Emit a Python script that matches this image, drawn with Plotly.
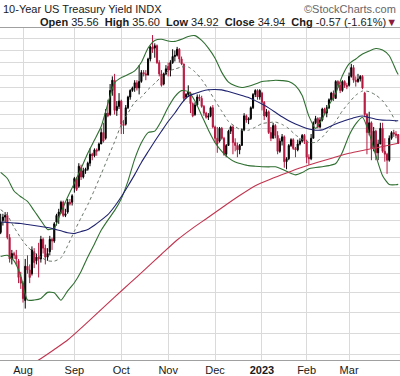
import math
import pandas as pd
import plotly.graph_objects as go

# ---------------- data ----------------
HOLIDAYS = ["2022-09-05", "2022-11-24", "2022-12-26", "2023-01-02", "2023-01-16", "2023-02-20"]
DATES = [d.strftime("%Y-%m-%d") for d in pd.bdate_range("2022-07-18", "2023-03-31")
         if d.strftime("%Y-%m-%d") not in HOLIDAYS]

OPEN = [29.3, 30.0, 30.2, 30.3, 29.0, 27.8, 28.1, 28.0, 27.7, 26.8,
        26.5, 25.6, 27.4, 27.2, 27.0, 28.2, 27.7, 27.9, 27.8, 28.9,
        28.4, 27.9, 28.2, 28.9, 28.8, 29.9, 30.3, 30.5, 31.1, 30.3,
        30.5, 31.1, 31.1, 32.0, 32.6, 32.1, 33.3, 32.7, 33.1, 33.2,
        33.6, 34.2, 34.1, 34.5, 34.5, 34.9, 35.7, 35.3, 37.1, 37.0,
        38.8, 39.6, 37.3, 37.6, 38.0, 36.3, 36.3, 37.5, 38.3, 38.8,
        39.0, 39.4, 39.0, 39.5, 40.2, 40.1, 40.0, 41.3, 42.3, 42.2,
        42.4, 41.0, 40.1, 39.3, 40.1, 40.7, 40.4, 41.0, 41.5, 41.6,
        42.1, 41.3, 40.9, 38.3, 38.5, 38.6, 37.8, 37.0, 37.7, 38.3,
        38.2, 37.6, 37.1, 36.8, 36.9, 37.5, 36.1, 35.3, 35.1, 36.0,
        35.3, 34.2, 34.8, 35.8, 36.1, 35.0, 34.8, 34.5, 34.8, 35.9,
        36.9, 36.6, 36.7, 37.5, 38.5, 38.8, 38.3, 38.6, 37.9, 36.9,
        37.2, 35.7, 35.3, 36.2, 35.5, 34.4, 35.1, 35.4, 33.7, 33.9,
        34.8, 35.2, 34.6, 34.5, 34.9, 35.1, 35.5, 35.1, 34.0, 33.9,
        35.3, 36.4, 36.7, 36.1, 36.6, 37.4, 37.1, 37.5, 38.1, 38.6,
        38.2, 39.5, 39.2, 38.8, 39.5, 39.2, 39.2, 39.9, 40.6, 39.6,
        39.5, 39.7, 39.9, 38.6, 37.0, 35.7, 36.4, 34.6, 35.8, 34.3,
        34.9, 36.0, 34.4, 34.2, 33.8, 35.3, 35.7, 35.6, 35.56]
HIGH = [30.4, 30.4, 30.5, 30.5, 29.2, 28.3, 28.2, 28.3, 27.8, 27.1,
        26.6, 27.8, 28.0, 27.5, 28.5, 28.4, 28.1, 28.7, 29.1, 29.0,
        28.6, 28.4, 29.1, 29.0, 29.9, 30.4, 30.7, 31.2, 31.2, 30.7,
        31.3, 31.3, 31.6, 32.7, 32.7, 33.6, 33.5, 33.3, 33.3, 33.7,
        34.6, 34.3, 34.6, 34.6, 35.0, 36.0, 36.4, 37.4, 38.1, 39.3,
        39.9, 40.1, 38.0, 38.6, 38.1, 36.6, 37.7, 38.4, 38.9, 39.1,
        39.6, 39.6, 40.8, 40.4, 40.4, 40.4, 41.4, 42.4, 43.3, 42.6,
        42.5, 41.2, 40.4, 40.2, 40.8, 41.0, 41.2, 42.1, 42.0, 42.3,
        42.2, 41.5, 40.9, 38.6, 39.2, 38.7, 37.9, 37.9, 38.5, 38.5,
        38.4, 37.7, 37.2, 37.1, 37.6, 37.7, 36.2, 36.1, 36.1, 36.1,
        35.4, 34.9, 35.9, 36.2, 36.2, 35.3, 35.0, 34.9, 36.0, 37.1,
        37.0, 36.8, 37.6, 38.6, 38.9, 38.9, 38.9, 38.7, 38.0, 37.4,
        37.3, 36.1, 36.4, 36.3, 35.8, 35.3, 35.6, 35.5, 34.0, 34.9,
        35.3, 35.3, 34.7, 35.2, 35.3, 35.6, 35.6, 35.2, 34.2, 35.6,
        36.5, 36.9, 36.8, 36.8, 37.5, 37.5, 37.7, 38.2, 38.7, 38.8,
        39.6, 39.6, 39.5, 39.6, 39.6, 39.4, 40.2, 40.9, 40.8, 39.9,
        40.1, 40.0, 40.0, 38.7, 37.1, 37.2, 36.5, 36.1, 35.9, 35.2,
        36.4, 36.4, 35.3, 34.3, 35.5, 35.8, 35.9, 35.8, 35.60]
LOW = [29.2, 29.7, 29.9, 28.9, 27.6, 27.5, 27.8, 27.5, 26.5, 26.2,
       25.5, 25.2, 27.0, 26.5, 26.9, 27.3, 27.5, 26.8, 27.6, 28.1,
       27.5, 27.7, 28.0, 28.3, 28.7, 29.7, 29.8, 30.4, 30.2, 30.2,
       30.4, 30.9, 30.9, 31.7, 31.8, 32.0, 32.5, 32.6, 32.9, 33.1,
       33.4, 33.8, 34.0, 34.1, 34.4, 34.9, 35.0, 35.2, 36.8, 36.9,
       38.4, 37.0, 36.9, 37.4, 35.6, 35.6, 36.2, 37.4, 38.1, 38.7,
       38.7, 38.8, 38.5, 39.4, 39.9, 39.6, 40.0, 41.1, 41.8, 41.4,
       40.9, 39.9, 39.1, 39.2, 40.0, 39.9, 39.9, 40.9, 41.1, 41.5,
       41.0, 40.8, 38.0, 38.2, 38.3, 37.1, 36.8, 36.9, 37.6, 38.0,
       37.5, 36.9, 36.7, 36.6, 36.8, 36.0, 35.0, 34.3, 35.0, 35.2,
       34.1, 34.0, 34.8, 35.6, 34.2, 34.4, 34.0, 34.2, 34.8, 35.8,
       36.4, 36.3, 36.6, 37.4, 38.3, 38.1, 38.1, 37.3, 36.6, 36.8,
       35.6, 35.1, 35.3, 35.3, 34.2, 34.3, 34.8, 33.3, 33.2, 33.8,
       34.7, 34.5, 34.0, 34.4, 34.8, 35.0, 34.9, 33.6, 33.5, 33.8,
       35.3, 36.3, 36.0, 36.0, 36.5, 37.0, 36.8, 37.4, 38.0, 38.0,
       38.2, 39.0, 38.6, 38.7, 39.0, 38.9, 39.1, 39.8, 39.4, 39.1,
       39.4, 39.5, 38.9, 36.8, 34.2, 35.5, 33.8, 34.4, 33.8, 33.8,
       34.9, 34.3, 33.7, 32.9, 33.7, 35.2, 35.4, 35.3, 34.92]
CLOSE = [29.9, 30.2, 30.3, 29.0, 27.8, 28.1, 28.0, 27.8, 26.8, 26.5,
         25.7, 27.4, 27.2, 26.8, 28.3, 27.6, 27.9, 27.8, 28.9, 28.4,
         27.9, 28.1, 28.9, 28.8, 29.8, 30.3, 30.5, 31.1, 30.3, 30.4,
         31.1, 31.0, 31.5, 32.6, 31.9, 33.4, 32.7, 33.1, 33.2, 33.6,
         34.2, 34.1, 34.5, 34.4, 34.9, 35.7, 35.1, 37.1, 36.9, 38.8,
         39.6, 37.3, 37.6, 38.0, 36.3, 36.2, 37.5, 38.3, 38.8, 39.0,
         39.4, 39.0, 39.5, 40.2, 40.1, 40.0, 41.3, 42.3, 42.1, 42.4,
         41.0, 40.1, 39.2, 40.1, 40.5, 40.4, 41.0, 41.5, 41.6, 42.1,
         41.3, 40.9, 38.2, 38.5, 38.7, 37.8, 36.9, 37.7, 38.3, 38.2,
         37.6, 37.1, 36.8, 36.9, 37.5, 36.1, 35.3, 34.9, 36.0, 35.3,
         34.2, 34.8, 35.8, 36.1, 35.0, 34.8, 34.5, 34.8, 35.9, 36.9,
         36.6, 36.7, 37.5, 38.5, 38.8, 38.3, 38.8, 37.9, 36.9, 37.2,
         35.7, 35.3, 36.2, 35.5, 34.4, 35.1, 35.4, 33.7, 33.9, 34.8,
         35.2, 34.6, 34.5, 34.9, 35.1, 35.5, 35.1, 34.0, 33.9, 35.3,
         36.4, 36.7, 36.1, 36.6, 37.4, 37.1, 37.5, 38.1, 38.6, 38.2,
         39.5, 39.2, 38.8, 39.5, 39.2, 39.1, 39.9, 40.6, 39.6, 39.5,
         39.7, 39.9, 39.0, 37.0, 35.7, 36.4, 34.6, 35.8, 34.3, 34.9,
         36.0, 34.4, 34.2, 33.8, 35.3, 35.7, 35.6, 35.51, 34.94]

# indicator readings, sampled every third trading day (index into DATES)
IND_IDX = list(range(0, 178, 3)) + [178]
BB_UPPER = [33.0, 32.6, 31.8, 31.44, 31.15, 30.58, 30.0, 29.47, 29.55, 30.49,
            31.43, 32.3, 33.25, 34.27, 35.18, 36.13, 37.8, 39.4, 39.8, 40.05,
            40.34, 41.03, 42.2, 42.84, 42.94, 42.8, 42.76, 42.94, 43.18, 43.25,
            42.84, 42.2, 41.36, 40.22, 39.45, 39.16, 39.03, 39.13, 39.3, 39.5,
            39.55, 39.6, 39.57, 39.5, 39.17, 38.41, 36.88, 36.0, 36.7, 37.69,
            38.58, 39.95, 40.9, 41.3, 41.7, 41.96, 42.16, 42.03, 41.56, 40.39, 40.04]
BB_MID = [30.65, 30.3, 29.6, 28.98, 28.48, 28.15, 27.9, 27.7, 27.68, 27.86,
          28.54, 29.37, 30.16, 30.95, 31.87, 32.88, 33.95, 35.05, 36.26, 37.1,
          37.91, 38.3, 38.88, 39.36, 39.87, 40.32, 40.48, 40.65, 40.65, 40.26,
          39.65, 38.88, 38.04, 37.24, 36.49, 36.13, 35.85, 35.87, 36.08, 36.34,
          36.41, 36.45, 36.28, 35.98, 35.53, 35.24, 35.01, 35.02, 35.38, 35.93,
          36.5, 37.27, 37.88, 38.44, 38.76, 38.71, 38.45, 38.02, 37.33, 36.48, 36.29]
BB_LOWER = [27.93, 28.0, 27.69, 26.88, 25.63, 25.63, 25.71, 26.02, 26.0, 25.62,
            26.1, 26.52, 27.12, 27.91, 28.64, 29.42, 30.02, 30.59, 31.32, 32.43,
            33.87, 34.99, 35.7, 35.8, 36.55, 37.53, 38.34, 38.79, 38.72, 38.0,
            36.93, 35.89, 35.0, 34.4, 33.96, 33.68, 33.55, 33.44, 33.4, 33.37,
            33.36, 33.36, 33.2, 32.99, 32.83, 32.98, 33.24, 33.31, 33.37, 33.44,
            33.58, 34.34, 35.5, 36.32, 36.8, 35.66, 34.1, 32.78, 32.21, 32.2, 32.22]
SMA50 = [29.91, 29.88, 29.85, 29.82, 29.76, 29.70, 29.64, 29.58, 29.49, 29.39,
         29.28, 29.24, 29.35, 29.47, 29.72, 30.02, 30.35, 30.84, 31.44, 32.12,
         32.85, 33.65, 34.37, 35.09, 35.79, 36.49, 37.11, 37.83, 38.36, 38.57,
         38.75, 38.86, 38.88, 38.85, 38.72, 38.57, 38.42, 38.26, 38.03, 37.77,
         37.49, 37.16, 36.83, 36.54, 36.31, 36.12, 35.96, 35.87, 35.89, 36.1,
         36.31, 36.49, 36.65, 36.80, 36.89, 36.78, 36.66, 36.59, 36.58, 36.55, 36.55]
SMA200_IDX = [13, 17, 24, 30, 37, 44, 51, 58, 65, 72, 79, 86, 93, 100, 107, 114,
              121, 128, 135, 142, 149, 156, 163, 170, 178]
SMA200 = [22.54, 22.76, 23.24, 23.68, 24.34, 25.05, 25.78, 26.51, 27.27, 28.06,
          28.86, 29.55, 30.19, 30.86, 31.52, 32.14, 32.57, 32.96, 33.33, 33.66,
          33.97, 34.27, 34.49, 34.70, 34.95]

MONTH_TICKS = ["2022-08-01", "2022-09-01", "2022-10-03", "2022-11-01",
               "2022-12-01", "2023-01-03", "2023-02-01", "2023-03-01"]
MONTH_LABELS = ["Aug", "Sep", "Oct", "Nov", "Dec", "<b>2023</b>", "Feb", "Mar"]
GRID_VALUES = list(range(23, 44))

TITLE = "10-Year US Treasury Yield INDX"
SOURCE = "\u00a9StockCharts.com"
QUOTE = ("<b>Open</b> 35.56&nbsp; <b>High</b> 35.60&nbsp; <b>Low</b> 34.92&nbsp; "
         "<b>Close</b> 34.94&nbsp; <b>Chg</b> -0.57 (-1.61%)"
         "<span style='color:#8c1c3c'>&#9660;</span>")

# ---------------- styling ----------------
BLACK = "#000000"
RED = "#b5173f"
GREEN = "#2f6f31"
NAVY = "#1f236f"
SMA200_COLOR = "#c2344f"
MID_COLOR = "#667366"
GRID = "#dadada"

fig = go.Figure()

# split candles: black when close >= previous close, red otherwise (StockCharts style)
up_i, dn_i = [], []
for i in range(len(DATES)):
    prev = CLOSE[i - 1] if i > 0 else OPEN[i]
    (up_i if CLOSE[i] >= prev else dn_i).append(i)

for idxs, col in ((up_i, BLACK), (dn_i, RED)):
    fig.add_trace(go.Candlestick(
        x=[DATES[i] for i in idxs],
        open=[OPEN[i] for i in idxs], high=[HIGH[i] for i in idxs],
        low=[LOW[i] for i in idxs], close=[CLOSE[i] for i in idxs],
        increasing=dict(line=dict(color=col, width=1), fillcolor=col),
        decreasing=dict(line=dict(color=col, width=1), fillcolor=col),
        whiskerwidth=0, hoverinfo="skip", showlegend=False))

ind_x = [DATES[i] for i in IND_IDX]
fig.add_trace(go.Scatter(x=ind_x, y=BB_UPPER, mode="lines",
                         line=dict(color=GREEN, width=1.1, shape="spline", smoothing=0.6)))
fig.add_trace(go.Scatter(x=ind_x, y=BB_LOWER, mode="lines",
                         line=dict(color=GREEN, width=1.1, shape="spline", smoothing=0.6)))
fig.add_trace(go.Scatter(x=ind_x, y=BB_MID, mode="lines",
                         line=dict(color=MID_COLOR, width=1, dash="dot", shape="spline", smoothing=0.6)))
fig.add_trace(go.Scatter(x=ind_x, y=SMA50, mode="lines",
                         line=dict(color=NAVY, width=1.1, shape="spline", smoothing=0.6)))
fig.add_trace(go.Scatter(x=[DATES[i] for i in SMA200_IDX], y=SMA200, mode="lines",
                         line=dict(color=SMA200_COLOR, width=1.1, shape="spline", smoothing=0.6)))

fig.update_layout(
    width=400, height=376,
    margin=dict(l=0, r=0, t=28, b=16),
    paper_bgcolor="white", plot_bgcolor="white",
    showlegend=False,
    font=dict(family="Liberation Sans, Arial, sans-serif", size=11, color="#1a1a1a"),
    xaxis=dict(
        type="category", categoryorder="array", categoryarray=DATES,
        range=[-0.3, 178.8], rangeslider=dict(visible=False),
        tickmode="array", tickvals=MONTH_TICKS, ticktext=MONTH_LABELS,
        showgrid=True, gridcolor=GRID, gridwidth=1,
        showline=True, linecolor="#a0a0a0", linewidth=1, mirror=True,
        ticks="", tickfont=dict(size=11, color="#1a1a1a"), fixedrange=True),
    yaxis=dict(
        type="log", range=[math.log10(22.76), math.log10(43.91)],
        tickmode="array", tickvals=GRID_VALUES, showticklabels=False,
        showgrid=True, gridcolor=GRID, gridwidth=1,
        zeroline=False, showline=False, ticks="", fixedrange=True),
    annotations=[
        dict(text=TITLE, xref="paper", yref="paper", x=0.0, y=1.0572, xshift=1,
             xanchor="left", yanchor="middle", showarrow=False,
             font=dict(size=11, color="#1a1a1a")),
        dict(text=SOURCE, xref="paper", yref="paper", x=1.0, y=1.0572, xshift=-2,
             xanchor="right", yanchor="middle", showarrow=False,
             font=dict(size=11, color="#666666")),
        dict(text=QUOTE, xref="paper", yref="paper", x=1.0, y=1.0166, xshift=-1,
             xanchor="right", yanchor="middle", showarrow=False,
             font=dict(size=11, color="#1a1a1a")),
    ],
)

fig.write_html("out.html", config={"displayModeBar": False, "staticPlot": True},
               post_script="document.body.style.margin='0';document.body.style.overflow='hidden';")
